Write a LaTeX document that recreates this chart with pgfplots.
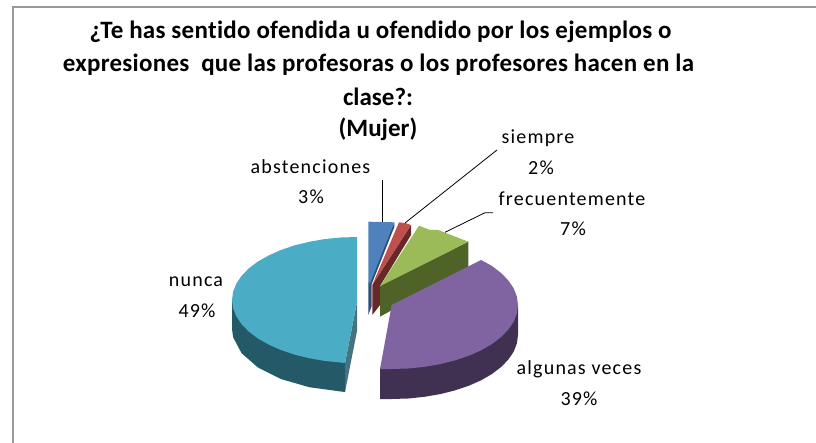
\documentclass[border=0pt]{standalone}
\usepackage{pgfplots}
\pgfplotsset{compat=1.18}
\usepackage{fontspec}
\setmainfont{Carlito}[Ligatures=NoCommon]
\newfontfamily\lab[LetterSpace=6,Ligatures=NoCommon]{Carlito}
\newfontfamily\ttl[LetterSpace=1.1,Ligatures=NoCommon]{Carlito}
\definecolor{cb}{HTML}{4F81BD}\definecolor{cbd}{HTML}{2C4D75}
\definecolor{cr}{HTML}{C0504D}\definecolor{crd}{HTML}{672828}
\definecolor{cg}{HTML}{9BBB59}\definecolor{cgd}{HTML}{4F6228}
\definecolor{cp}{HTML}{8064A2}\definecolor{cpd}{HTML}{403152}
\definecolor{ct}{HTML}{4BACC6}\definecolor{ctd}{HTML}{245A68}
\definecolor{frame}{HTML}{999999}
\begin{document}
\begin{tikzpicture}
\path[use as bounding box] (0,0) rectangle (816pt,443pt);
\begin{axis}[at={(0,0)},anchor=south west,scale only axis,width=816pt,height=443pt,
  xmin=0,xmax=816,ymin=0,ymax=443,y dir=reverse,hide axis,clip=false]
% frame
\addplot[frame,line width=1.7pt] coordinates {(13.3,443) (13.3,6.9) (816,6.9)};
% blue
\addplot[fill=cbd,draw=none] coordinates {(394.3,222.3) (394.3,227) (371.7,284) (371.7,306) (368.3,315) (368.3,283)} --cycle;
\addplot[fill=cb,draw=none] coordinates {(368.3,221.7) (394.3,222.3) (370,283.3) (368.3,283.3)} --cycle;
% red
\addplot[fill=crd,draw=none] coordinates {(411,225) (411,235) (380,286) (380,305) (372.3,315) (372.3,285)} --cycle;
\addplot[fill=cr,draw=none] coordinates {(399,222.3) (406,223.3) (411,225) (372.3,285)} --cycle;
% green
\addplot[fill=cgd,draw=none] coordinates {(468.3,241.7) (468.3,268) (380,316.7) (380,286)} --cycle;
\addplot[fill=cg,draw=none] coordinates {(419,225.7) (430,230) (438.3,230) (445,232.7) (468.3,241.7) (380,286)} --cycle;
% purple
\addplot[fill=cpd,draw=none] coordinates {(518,305) (518,335) (516.9,343.4) (513.7,351.6) (508.4,359.5) (501.1,367) (492,374) (481.1,380.3) (468.7,385.8) (455,390.4) (440.2,394.1) (424.6,396.8) (408.4,398.5) (392,399) (380,399) (380,369)} --cycle;
\addplot[fill=cp,draw=none] coordinates {(481.1,260) (492,266) (501.1,273) (508.4,280.5) (513.7,288.4) (516.9,296.6) (518,305) (516.9,313.4) (513.7,321.6) (508.4,329.5) (501.1,337) (492,344) (481.1,350.3) (468.7,355.8) (455,360.4) (440.2,364.1) (424.6,366.8) (408.4,368.5) (392,369) (380,369) (391.7,305)} --cycle;
% teal
\addplot[fill=ctd,draw=none] coordinates {(232,300) (232,329) (233.1,337.2) (241.5,353.1) (257.8,367.4) (280.9,379) (309.2,387.2) (340.7,391.5) (345,392) (345,363)} --cycle;
\addplot[fill=ctd!85!white,draw=none] coordinates {(345,363) (357,302) (357,331) (345,392)} --cycle;
\addplot[fill=ct,draw=none] coordinates {(357,237) (340.7,237.5) (324.6,239.1) (309.2,241.8) (294.5,245.4) (280.9,250) (268.6,255.5) (257.8,261.6) (248.7,268.5) (241.5,275.9) (236.3,283.7) (233.1,291.8) (232,300) (233.1,308.2) (236.3,316.3) (241.5,324.1) (248.7,331.5) (257.8,338.4) (268.6,344.5) (280.9,350) (294.5,354.6) (309.2,358.2) (324.6,360.9) (340.7,362.5) (345,363) (357,302)} --cycle;
% leaders
\addplot[black,line width=0.8pt] coordinates {(382.5,180) (382.5,222)};
\addplot[black,line width=0.8pt] coordinates {(497,150) (405,223)};
\addplot[black,line width=0.8pt] coordinates {(493,212.7) (485,212.7) (445,232.3)};
% title
\node[font=\fontsize{25}{25}\ttl\bfseries,anchor=base] at (axis cs:380.5,39) {¿Te has sentido ofendida u ofendido por los ejemplos o};
\node[font=\fontsize{25}{25}\ttl\bfseries,anchor=base] at (axis cs:378.5,71.5) {expresiones\ \ que las profesoras o los profesores hacen en la};
\node[font=\fontsize{25}{25}\selectfont\bfseries,anchor=base] at (axis cs:378,105.7) {clase?:};
\node[font=\fontsize{25}{25}\selectfont\bfseries,anchor=base] at (axis cs:378,137) {(Mujer)};
% labels
\node[font=\fontsize{20}{20}\lab] at (axis cs:310.5,167) {abstenciones};
\node[font=\fontsize{20}{20}\lab] at (axis cs:311,197) {3\%};
\node[font=\fontsize{20}{20}\lab] at (axis cs:538,138) {siempre};
\node[font=\fontsize{20}{20}\lab] at (axis cs:541,168) {2\%};
\node[font=\fontsize{20}{20}\lab] at (axis cs:572,199) {frecuentemente};
\node[font=\fontsize{20}{20}\lab] at (axis cs:573,229) {7\%};
\node[font=\fontsize{20}{20}\lab] at (axis cs:196,282) {nunca};
\node[font=\fontsize{20}{20}\lab] at (axis cs:197,311) {49\%};
\node[font=\fontsize{20}{20}\lab] at (axis cs:579,369) {algunas veces};
\node[font=\fontsize{20}{20}\lab] at (axis cs:579,399) {39\%};
\end{axis}
\end{tikzpicture}
\end{document}
